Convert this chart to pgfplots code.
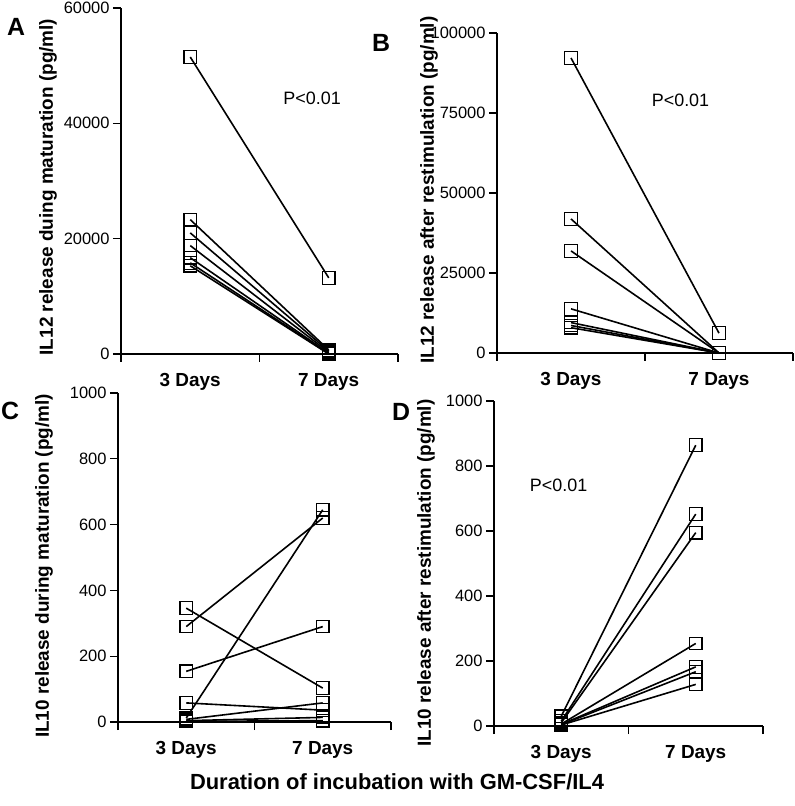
\documentclass[border=0pt]{standalone}
\usepackage{fontspec}
\setmainfont{Liberation Sans}
\usepackage{pgfplots}
\pgfplotsset{compat=1.18}
\begin{document}
\begin{tikzpicture}
\pgfplotsset{
  panel/.style={
    scale only axis, clip=false,
    axis lines=left,
    axis line style={line width=1.8bp,-},
    xmin=0, xmax=2, ymin=0,
    xtick={0,1,2}, xticklabels={,,},
    extra x ticks={0.5,1.5},
    extra x tick labels={3 Days,7 Days},
    extra x tick style={major tick length=0pt},
    tick align=outside,
    major tick length=8bp,
    tick style={line width=1.3bp,black},
    /pgf/number format/fixed,
    /pgf/number format/assume math mode=true,
    /pgf/number format/1000 sep={},
    scaled y ticks=false,
    yticklabel style={font=\fontsize{16.5}{16.5}\selectfont},
    xticklabel style={font=\bfseries\fontsize{19}{19}\selectfont, yshift=-16bp},
  },
  pair/.style={black, line width=1.6bp, mark=square, mark size=6.3bp,
    mark options={line width=1.2bp, solid}},
}
\useasboundingbox (0,0) rectangle (795bp,806bp);

% A
\begin{axis}[panel, at={(121bp,452bp)}, anchor=south west,
  width=277bp, height=346bp, ymax=60000, ytick={0,20000,40000,60000}]
\addplot[pair] coordinates {(0.5,51500) (1.5,13200)};
\addplot[pair] coordinates {(0.5,23300) (1.5,700)};
\addplot[pair] coordinates {(0.5,21000) (1.5,500)};
\addplot[pair] coordinates {(0.5,18800) (1.5,300)};
\addplot[pair] coordinates {(0.5,16700) (1.5,150)};
\addplot[pair] coordinates {(0.5,15800) (1.5,50)};
\addplot[pair] coordinates {(0.5,15300) (1.5,0)};
\node[font=\fontsize{18}{18}\selectfont] at (axis cs:1.38,44400) {P<0.01};
\end{axis}

% B
\begin{axis}[panel, at={(497bp,453bp)}, anchor=south west,
  width=296bp, height=320bp, ymax=100000, ytick={0,25000,50000,75000,100000}]
\addplot[pair] coordinates {(0.5,92200) (1.5,6200)};
\addplot[pair] coordinates {(0.5,41900) (1.5,0)};
\addplot[pair] coordinates {(0.5,31900) (1.5,0)};
\addplot[pair] coordinates {(0.5,13800) (1.5,0)};
\addplot[pair] coordinates {(0.5,9500) (1.5,0)};
\addplot[pair] coordinates {(0.5,8600) (1.5,0)};
\addplot[pair] coordinates {(0.5,7900) (1.5,0)};
\node[font=\fontsize{18}{18}\selectfont] at (axis cs:1.24,79000) {P<0.01};
\end{axis}

% C
\begin{axis}[panel, at={(118bp,84bp)}, anchor=south west,
  width=273bp, height=329bp, ymax=1000, ytick={0,200,...,1000}]
\addplot[pair] coordinates {(0.5,346) (1.5,103)};
\addplot[pair] coordinates {(0.5,290) (1.5,620)};
\addplot[pair] coordinates {(0.5,154) (1.5,290)};
\addplot[pair] coordinates {(0.5,12) (1.5,645)};
\addplot[pair] coordinates {(0.5,58) (1.5,36)};
\addplot[pair] coordinates {(0.5,8) (1.5,58)};
\addplot[pair] coordinates {(0.5,4) (1.5,14)};
\addplot[pair] coordinates {(0.5,2) (1.5,4)};
\end{axis}

% D
\begin{axis}[panel, at={(494bp,80bp)}, anchor=south west,
  width=269bp, height=325bp, ymax=1000, ytick={0,200,...,1000}]
\addplot[pair] coordinates {(0.5,30) (1.5,864)};
\addplot[pair] coordinates {(0.5,15) (1.5,652)};
\addplot[pair] coordinates {(0.5,10) (1.5,595)};
\addplot[pair] coordinates {(0.5,6) (1.5,254)};
\addplot[pair] coordinates {(0.5,5) (1.5,182)};
\addplot[pair] coordinates {(0.5,4) (1.5,167)};
\addplot[pair] coordinates {(0.5,3) (1.5,128)};
\node[font=\fontsize{18}{18}\selectfont] at (axis cs:0.48,741) {P<0.01};
\end{axis}

% y labels
\begin{scope}[every node/.style={rotate=90, font=\bfseries\fontsize{19}{19}\selectfont}]
\node at (48bp,619bp) {IL12 release duing maturation (pg/ml)};
\node at (429bp,616bp) {IL12 release after restimulation (pg/ml)};
\node at (44bp,240bp) {IL10 release during maturation (pg/ml)};
\node at (426bp,233bp) {IL10 release after restimulation (pg/ml)};
\end{scope}

% panel letters
\begin{scope}[every node/.style={font=\bfseries\fontsize{25}{25}\selectfont}]
\node at (16bp,779bp) {A};
\node at (381bp,763bp) {B};
\node at (10bp,395bp) {C};
\node at (401bp,394bp) {D};
\end{scope}

\node[font=\bfseries\fontsize{22}{22}\selectfont] at (397bp,24bp)
  {Duration of incubation with GM-CSF/IL4};
\end{tikzpicture}
\end{document}
